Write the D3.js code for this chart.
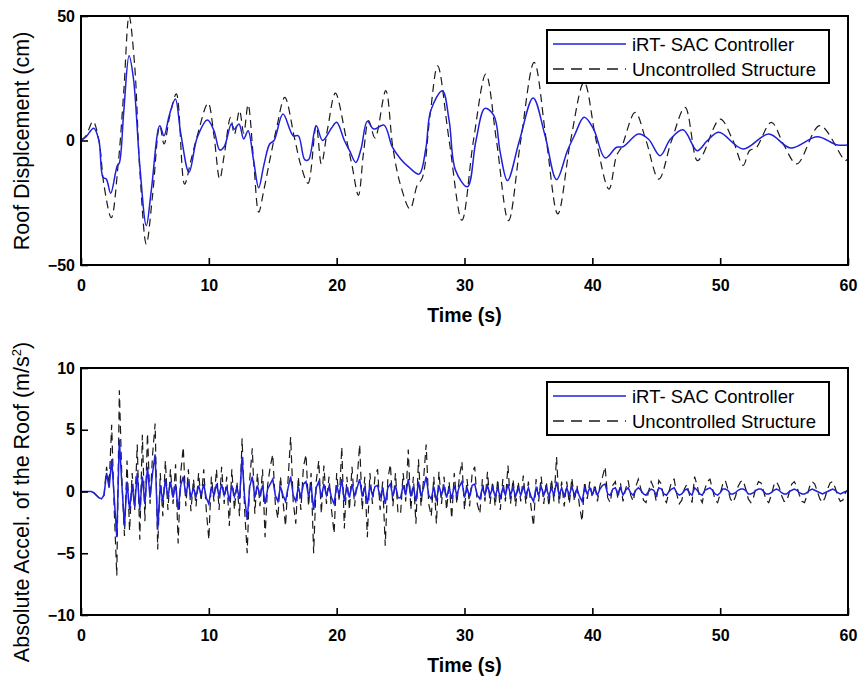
<!DOCTYPE html>
<html>
<head>
<meta charset="utf-8">
<script src="https://cdn.jsdelivr.net/npm/d3@7"></script>
<style>
  html, body { margin: 0; padding: 0; background: #fff; }
  svg { display: block; }
  text { font-family: "Liberation Sans", Arial, Helvetica, sans-serif; }
</style>
</head>
<body>
<div id="chart"></div>
<script>
// ---------------- DATA ----------------
const xTicks = [0, 10, 20, 30, 40, 50, 60];
const dispTicks = [-50, 0, 50];
const accelTicks = [-10, -5, 0, 5, 10];
const seriesNames = ["iRT- SAC Controller", "Uncontrolled Structure"];

// Roof displacement (cm) – controlled (iRT-SAC)
const dispCtrlT = [0,0.4,1.0,1.4,1.72,1.98,2.32,2.7,2.84,3.0,3.35,3.76,4.1,4.6,5.11,5.5,6.16,6.49,6.9,7.38,7.8,8.45,9.1,9.89,10.4,10.85,11.2,11.76,12.0,12.36,12.73,13.07,13.5,13.9,14.3,14.76,15.1,15.8,16.6,17.0,17.5,17.8,18.4,18.9,19.6,20.0,20.6,21.0,21.5,21.9,22.4,22.9,23.7,24.36,25.0,25.67,26.45,26.97,27.36,28.27,28.8,29.3,30.23,30.9,31.6,32.3,32.8,33.36,34.3,35.37,36.3,37.2,38.05,38.6,39.36,40.1,41.0,41.9,42.4,43.6,44.4,45.3,46.1,47.1,48.2,49.0,49.9,51.8,53.8,55.5,57.6,59.1,60];
const dispCtrlV = [0,1.5,4.9,0,-14.8,-15.5,-21.2,-13,-10.1,-9,12,34,25,-10,-34.2,-20,5.9,1.9,10,16.7,3,-12.8,1.3,8.2,4,-3.8,-2.5,6.6,4.5,6.6,0.6,3.9,-8,-19,-10,-1.4,0,10.6,1.9,1.9,-7.7,-7.7,5.9,0,5,7.3,0,-4,-8.8,-3.5,7.7,4.6,6.2,-2.7,-7.4,-10.8,-13.5,-3.4,12,20,8,-12,-18.6,0,12.9,10,-5,-16.1,0,17.1,2,-15.7,-4.1,2,9.3,4.6,-7,-2.7,-2.5,2.6,0.5,-6.1,0.5,4.3,-4.1,0,3.3,-3.4,2.6,-3,1.5,-1.7,-1.8];

// Roof displacement (cm) – uncontrolled
const dispUncT = [0,0.4,0.94,1.4,1.8,2.37,2.9,3.35,3.76,4.2,4.6,5.11,5.6,6.16,6.5,6.95,7.46,8.1,8.6,9.1,9.94,10.4,10.85,11.2,11.7,12.0,12.4,12.73,13.07,13.5,13.9,14.3,14.76,15.3,15.94,16.7,17.2,17.76,18.4,18.8,19.3,19.9,20.7,21.2,21.7,22.1,22.5,23.0,23.84,24.4,25.0,25.74,26.3,26.7,27.3,27.9,28.8,29.8,30.7,31.67,32.5,33.44,34.4,35.45,36.4,37.3,38.3,39.36,40.3,41.3,41.9,42.3,43.35,44.2,45.2,46.2,47.26,48.2,48.6,50.0,51.0,51.8,52.3,52.8,54.0,55.0,56.0,57.8,59.8,60];
const dispUncV = [0,2,7.7,0,-18,-31,-10,20,50,30,-12,-41.6,-22,6,-1.4,10,18.7,-17.5,-8,2,15,2,-15.5,-6,9.3,2.5,12,3,14.4,-8,-28.8,-20,-8.1,5,17.3,1,-10,-17.2,6,-9.4,5,19,2,-10,-22,-5,8,1,20,-3,-18,-27.5,-18,-15,10,30,0,-32,0,26.7,0,-32.2,0,31.4,0,-29.5,0,23.4,0,-19.5,-6,-2.5,11.3,0,-15.5,0,13.3,-8.1,-6,8.6,0,-10,-4,-3,7.3,-2,-9.4,6,-8.1,-7];

// Absolute acceleration of the roof (m/s^2), sampled every 0.2 s from 0 to 60 s
const accelStep = 0.2;
const accelUnc = [
  0, 0, 0, 0, 0,
  -0.1, -0.3, -0.5, -0.6, -0.3,
  2.0, 0.5, 5.4, -1.5, -6.8,
  8.2, 1.0, -3.6, 2.5, -3.2,
  1.5, -1.5, 3.8, -3.9, 4.6,
  -2.4, 4.7, -1.0, 3.0, 5.5,
  -4.7, 1.5, -2.0, 2.5, -1.5,
  1.8, -1.0, 2.2, -4.2, 1.5,
  3.6, -1.2, 1.8, -1.6, 1.0,
  -1.2, 1.5, -0.8, 1.8, -1.5,
  -3.9, 1.2, -0.8, 1.8, -1.5,
  2.0, -1.0, 1.2, -2.8, 1.8,
  -1.5, 0.8, -2.0, 4.3, -1.5,
  -5.0, 1.0, 3.5, -1.8, 1.5,
  -1.2, 1.8, -3.7, 0.5, 2.0,
  3.0, -1.0, -2.2, 1.2, -0.8,
  -2.8, 1.0, 4.4, -0.8, -2.6,
  1.2, -1.5, 2.0, 3.0, -1.2,
  1.5, -5.0, 0.8, 2.5, -1.8,
  2.1, -1.0, 1.2, -1.5, -3.4,
  1.5, -0.8, 3.6, -3.0, 1.2,
  -1.5, 2.0, -1.2, 1.0, 3.8,
  -1.5, 1.2, -3.7, 1.5, -1.0,
  1.2, 1.8, -1.5, 0.8, -4.4,
  1.0, 2.2, -1.2, 1.5, -1.8,
  -1.8, 1.5, -0.8, 3.4, -1.5,
  1.2, -2.6, 2.6, -1.2, 1.0,
  3.8, -1.0, -2.0, 1.2, -2.6,
  1.6, -1.0, 1.2, -1.5, 0.8,
  -2.2, 1.5, -1.0, 1.2, 2.4,
  -1.5, 1.0, -1.2, 1.5, 2.0,
  -1.0, -1.8, 1.0, -0.8, 1.6,
  -1.0, 0.8, -1.2, 1.0, -1.5,
  1.0, -0.8, 2.1, -1.0, 1.0,
  -1.2, 0.8, -0.8, 1.3, -1.0,
  0.8, -1.2, -2.8, 1.0, -0.8,
  1.2, -1.0, 0.8, -1.2, 1.0,
  -0.8, 2.8, -1.0, 0.8, -1.2,
  0.8, -1.0, 1.1, -0.8, 0.5,
  -1.2, -2.4, 0.8, -0.6, 0.8,
  -0.5, 0.6, -0.8, 0.5, 1.2,
  2.0, -0.5, -0.9, 0.5, 0.8,
  -0.6, 0.7, -0.8, 0.2, 0.9,
  -0.3, -0.8, 0.4, 1.0, 0.2,
  -0.7, -0.9, 0.0, 0.8, 0.3,
  -0.8, 0.9, 0.6, -0.6, -0.9,
  0.0, 0.8, 1.0, -0.2, -1.0,
  -0.7, 0.2, 0.6, -0.3, -0.9,
  1.2, 0.5, -0.5, -0.9, 0.2,
  0.8, 1.0, 0.2, -0.7, -0.9,
  -0.2, 0.6, 0.9, 0.2, -0.6,
  -0.9, -0.4, 0.4, 0.8, 0.9,
  0.2, -0.6, -0.9, -0.5, 0.3,
  0.8, 0.7, 0.0, -0.7, -0.9,
  -0.3, 0.5, 0.8, 0.4, -0.3,
  -0.8, -0.8, -0.1, 0.6, 0.8,
  0.4, -0.3, -0.8, -0.9, -0.3,
  0.4, 0.8, 0.6, 0.0, -0.6,
  -0.9, -0.5, 0.2, 0.7, 0.8,
  0.3, -0.4, -0.8, -0.7, -0.1,
  0.2
];
const accelCtrl = [
  0, 0, 0, 0, 0,
  -0.1, -0.3, -0.5, -0.6, -0.3,
  1.5, 0.3, 2.6, -0.5, -3.7,
  4.2, 0.5, -2.8, 0.8, -1.5,
  0.5, -1.2, 1.5, -1.5, 1.2,
  -1.0, 2.0, -0.5, 1.5, 3.0,
  -3.1, 0.5, -0.8, 1.0, -0.5,
  0.8, -0.5, 0.6, -1.5, 0.5,
  1.2, -0.3, 0.8, -0.5, 0.3,
  -0.4, 0.5, -0.3, 0.6, -0.5,
  -1.0, 0.4, -0.3, 0.6, -0.4,
  0.6, -0.3, 0.4, -0.8, 0.5,
  -0.4, 0.3, -0.6, 2.8, -0.5,
  -2.3, 0.4, 1.2, -0.5, 0.5,
  -0.4, 0.5, -1.0, 0.2, 0.6,
  1.0, -0.3, -0.8, 0.4, -0.3,
  -0.8, 0.3, 1.2, -0.3, -0.8,
  0.4, -0.5, 0.6, 0.8, -0.4,
  0.5, -1.5, 0.3, 0.8, -0.5,
  0.6, -0.3, 0.4, -0.5, -1.0,
  0.5, -0.3, 1.0, -0.8, 0.4,
  -0.5, 0.6, -0.4, 0.3, 1.0,
  -0.4, 0.4, -1.0, 0.5, -0.3,
  0.4, 0.5, -0.5, 0.3, -1.0,
  0.3, 0.6, -0.4, 0.5, -0.5,
  -0.5, 0.5, -0.3, 1.0, -0.4,
  0.4, -0.8, 0.8, -0.4, 0.3,
  1.2, -0.3, -0.6, 0.4, -0.8,
  0.5, -0.3, 0.4, -0.5, 0.3,
  -0.6, 0.5, -0.3, 0.4, 0.8,
  -0.5, 0.3, -0.4, 0.5, 0.6,
  -0.3, -0.6, 0.3, -0.3, 0.5,
  -0.3, 0.3, -0.4, 0.3, -0.5,
  0.3, -0.3, 0.6, -0.3, 0.3,
  -0.4, 0.3, -0.3, 0.4, -0.3,
  0.3, -0.4, -0.8, 0.3, -0.3,
  0.4, -0.3, 0.3, -0.4, 0.3,
  -0.3, 0.8, -0.3, 0.3, -0.4,
  0.3, -0.3, 0.4, -0.3, 0.2,
  -0.4, -0.8, 0.3, -0.2, 0.3,
  -0.2, 0.2, -0.3, 0.2, 0.5,
  0.6, -0.2, -0.3, 0.2, 0.3,
  -0.2, 0.3, -0.3, 0.1, 0.3,
  -0.1, -0.3, 0.1, 0.3, 0.1,
  -0.2, -0.3, 0.0, 0.2, 0.1,
  -0.3, 0.3, 0.2, -0.2, -0.3,
  0.0, 0.2, 0.3, -0.1, -0.3,
  -0.2, 0.1, 0.2, -0.1, -0.3,
  0.3, 0.1, -0.2, -0.3, 0.1,
  0.2, 0.3, 0.1, -0.2, -0.3,
  -0.1, 0.2, 0.2, 0.1, -0.2,
  -0.2, -0.1, 0.1, 0.2, 0.2,
  0.1, -0.2, -0.2, -0.1, 0.1,
  0.2, 0.2, 0.0, -0.2, -0.2,
  -0.1, 0.1, 0.2, 0.1, -0.1,
  -0.2, -0.2, 0.0, 0.1, 0.2,
  0.1, -0.1, -0.2, -0.2, -0.1,
  0.1, 0.2, 0.1, 0.0, -0.1,
  -0.2, -0.1, 0.0, 0.1, 0.2,
  0.1, -0.1, -0.2, -0.1, 0.0,
  0.0
];

// ---------------- DRAWING ----------------
const W = 859, H = 680;
const FONT = '"Liberation Sans", Arial, Helvetica, sans-serif';
const BLUE = "#1f1fdc";
const DARK = "#1a1a1a";

const svg = d3.select("#chart").append("svg")
  .attr("width", W).attr("height", H).attr("viewBox", `0 0 ${W} ${H}`);

const plotLeft = 81, plotRight = 848;

function panel(cfg) {
  const x = d3.scaleLinear().domain([0, 60]).range([plotLeft, plotRight]);
  const y = d3.scaleLinear().domain(cfg.yDomain).range([cfg.bottom, cfg.top]);
  const g = svg.append("g");

  const clipId = "clip" + cfg.id;
  svg.append("clipPath").attr("id", clipId).append("rect")
    .attr("x", plotLeft).attr("y", cfg.top)
    .attr("width", plotRight - plotLeft).attr("height", cfg.bottom - cfg.top);

  // series
  const lines = g.append("g").attr("clip-path", `url(#${clipId})`);
  const gen = d3.line().x(d => x(d[0])).y(d => y(d[1])).curve(cfg.curve);
  lines.append("path").datum(cfg.unc)
    .attr("d", gen).attr("fill", "none")
    .attr("stroke", DARK).attr("stroke-width", 1.2)
    .attr("stroke-dasharray", "8,5");
  lines.append("path").datum(cfg.ctrl)
    .attr("d", gen).attr("fill", "none")
    .attr("stroke", BLUE).attr("stroke-width", 1.5);

  // axes
  const xAxis = d3.axisBottom(x).tickValues(xTicks).tickFormat(d3.format("d"))
    .tickSizeInner(-7).tickSizeOuter(0).tickPadding(15);
  const gx = g.append("g").attr("transform", `translate(0,${cfg.bottom})`).call(xAxis);
  const yAxis = d3.axisLeft(y).tickValues(cfg.yTicks).tickFormat(d3.format("d"))
    .tickSizeInner(-7).tickSizeOuter(0).tickPadding(6);
  const gy = g.append("g").attr("transform", `translate(${plotLeft},0)`).call(yAxis);
  [gx, gy].forEach(a => {
    a.select(".domain").remove();
    a.selectAll(".tick line").attr("stroke", "#000").attr("stroke-width", 1.6);
    a.selectAll(".tick text").attr("fill", "#000")
      .style("font-family", FONT).style("font-size", "16px").style("font-weight", "bold");
  });

  // frame
  g.append("rect").attr("x", plotLeft).attr("y", cfg.top)
    .attr("width", plotRight - plotLeft).attr("height", cfg.bottom - cfg.top)
    .attr("fill", "none").attr("stroke", "#000").attr("stroke-width", 2);

  // x title
  g.append("text").attr("x", (plotLeft + plotRight) / 2).attr("y", cfg.bottom + 57)
    .attr("text-anchor", "middle").style("font-family", FONT)
    .style("font-size", "19.5px").style("font-weight", "bold").text("Time (s)");

  // y title
  const yt = g.append("text")
    .attr("transform", `translate(29,${cfg.yTitleCenter}) rotate(-90)`)
    .attr("text-anchor", "middle").style("font-family", FONT).style("font-size", "21.5px");
  cfg.yTitle(yt);

  // legend
  const lg = g.append("g");
  lg.append("rect").attr("x", 547).attr("y", cfg.legendTop)
    .attr("width", 282).attr("height", 53)
    .attr("fill", "#fff").attr("stroke", "#000").attr("stroke-width", 2);
  const rows = [
    { name: seriesNames[0], color: BLUE, dash: null, w: 1.5 },
    { name: seriesNames[1], color: DARK, dash: "11,7", w: 1.3 }
  ];
  rows.forEach((r, i) => {
    const cy = cfg.legendTop + 14 + i * 25;
    lg.append("line").attr("x1", 553).attr("x2", 626).attr("y1", cy).attr("y2", cy)
      .attr("stroke", r.color).attr("stroke-width", r.w)
      .attr("stroke-dasharray", r.dash);
    lg.append("text").attr("x", 632).attr("y", cy + 7)
      .style("font-family", FONT).style("font-size", "18.5px").text(r.name);
  });
}

panel({
  id: "disp", top: 16, bottom: 265, yDomain: [-50, 50], yTicks: dispTicks,
  curve: d3.curveCatmullRom.alpha(0.5),
  ctrl: dispCtrlT.map((t, i) => [t, dispCtrlV[i]]),
  unc: dispUncT.map((t, i) => [t, dispUncV[i]]),
  legendTop: 30, yTitleCenter: 141,
  yTitle: t => t.text("Roof Displcement (cm)")
});

panel({
  id: "acc", top: 368, bottom: 615, yDomain: [-10, 10], yTicks: accelTicks,
  curve: d3.curveLinear,
  ctrl: accelCtrl.map((v, i) => [i * accelStep, v]),
  unc: accelUnc.map((v, i) => [i * accelStep, v]),
  legendTop: 382, yTitleCenter: 502,
  yTitle: t => {
    t.append("tspan").text("Absolute Accel. of the Roof (m/s");
    t.append("tspan").attr("dy", -8).style("font-size", "13px").text("2");
    t.append("tspan").attr("dy", 8).text(")");
  }
});
</script>
</body>
</html>
